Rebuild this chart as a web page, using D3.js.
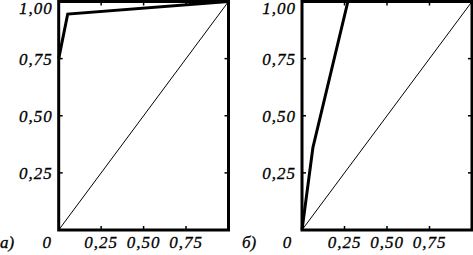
<!DOCTYPE html>
<html>
<head>
<meta charset="utf-8">
<script src="https://cdn.jsdelivr.net/npm/d3@7"></script>
<style>
  body { margin: 0; background: #fff; }
  svg text { font-family: "Liberation Serif", "Times New Roman", serif; font-style: italic; font-size: 17px; fill: #000; stroke: #000; stroke-width: 0.3px; }
</style>
</head>
<body>
<div id="chart"></div>
<script>
var width = 473, height = 255;

// tick values and labels
var tickVals = [0.25, 0.5, 0.75];
var yTickVals = [0.25, 0.5, 0.75, 1.0];
var fmt = function(d){ return d3.format(".2f")(d).replace(".", ","); };

// panel a) curve
var curveA_x = [0, 0.053, 1.0];
var curveA_y = [0.75, 0.945, 1.0];
// panel б) curve
var curveB_x = [0, 0.064, 0.27];
var curveB_y = [0, 0.36, 1.0];
// diagonal
var diagX = [0, 1];
var diagY = [0, 1];

var panels = [
  {label: "a)", left: 58.7, right: 228.5, labelX: 0, zeroOff: 12, xs: curveA_x, ys: curveA_y},
  {label: "б)", left: 302, right: 472, labelX: 242, zeroOff: 15, xs: curveB_x, ys: curveB_y}
];

var svg = d3.select("#chart").append("svg")
  .attr("width", width)
  .attr("height", height);

panels.forEach(function(p){
  var x = d3.scaleLinear().domain([0, 1]).range([p.left, p.right]);
  var y = d3.scaleLinear().domain([0, 1]).range([230, 1.5]);
  var g = svg.append("g");

  var line = d3.line()
    .x(function(d){ return x(d[0]); })
    .y(function(d){ return y(d[1]); });

  // diagonal
  g.append("path")
    .datum(d3.zip(diagX, diagY))
    .attr("d", line)
    .attr("fill", "none")
    .attr("stroke", "#000")
    .attr("stroke-width", 1);

  // curve
  g.append("path")
    .datum(d3.zip(p.xs, p.ys))
    .attr("d", line)
    .attr("fill", "none")
    .attr("stroke", "#000")
    .attr("stroke-width", 3)
    .attr("stroke-linejoin", "miter");

  // frame
  g.append("rect")
    .attr("x", x(0)).attr("y", y(1))
    .attr("width", x(1) - x(0)).attr("height", y(0) - y(1))
    .attr("fill", "none")
    .attr("stroke", "#000")
    .attr("stroke-width", 3);

  // inward ticks
  var tl = 4;
  tickVals.forEach(function(t){
    g.append("line").attr("x1", x(t)).attr("x2", x(t)).attr("y1", y(0)).attr("y2", y(0) - tl).attr("stroke", "#000").attr("stroke-width", 1.5);
    g.append("line").attr("x1", x(t)).attr("x2", x(t)).attr("y1", y(1)).attr("y2", y(1) + tl).attr("stroke", "#000").attr("stroke-width", 1.5);
    g.append("line").attr("y1", y(t)).attr("y2", y(t)).attr("x1", x(0)).attr("x2", x(0) + tl).attr("stroke", "#000").attr("stroke-width", 1.5);
    g.append("line").attr("y1", y(t)).attr("y2", y(t)).attr("x1", x(1)).attr("x2", x(1) - tl).attr("stroke", "#000").attr("stroke-width", 1.5);
  });

  // y labels
  g.selectAll(".ylab")
    .data(yTickVals)
    .enter().append("text")
    .attr("x", x(0) - 6)
    .attr("y", function(d){ return Math.max(y(d) + 6, 14); })
    .attr("text-anchor", "end")
    .attr("letter-spacing", "1")
    .text(fmt);

  // x labels
  g.selectAll(".xlab")
    .data(tickVals)
    .enter().append("text")
    .attr("x", function(d){ return x(d); })
    .attr("y", 248)
    .attr("text-anchor", "middle")
    .attr("letter-spacing", "1")
    .text(fmt);

  g.append("text")
    .attr("x", x(0) - p.zeroOff)
    .attr("y", 248)
    .attr("text-anchor", "middle")
    .text("0");

  g.append("text")
    .attr("x", p.labelX)
    .attr("y", 248)
    .text(p.label);
});
</script>
</body>
</html>
